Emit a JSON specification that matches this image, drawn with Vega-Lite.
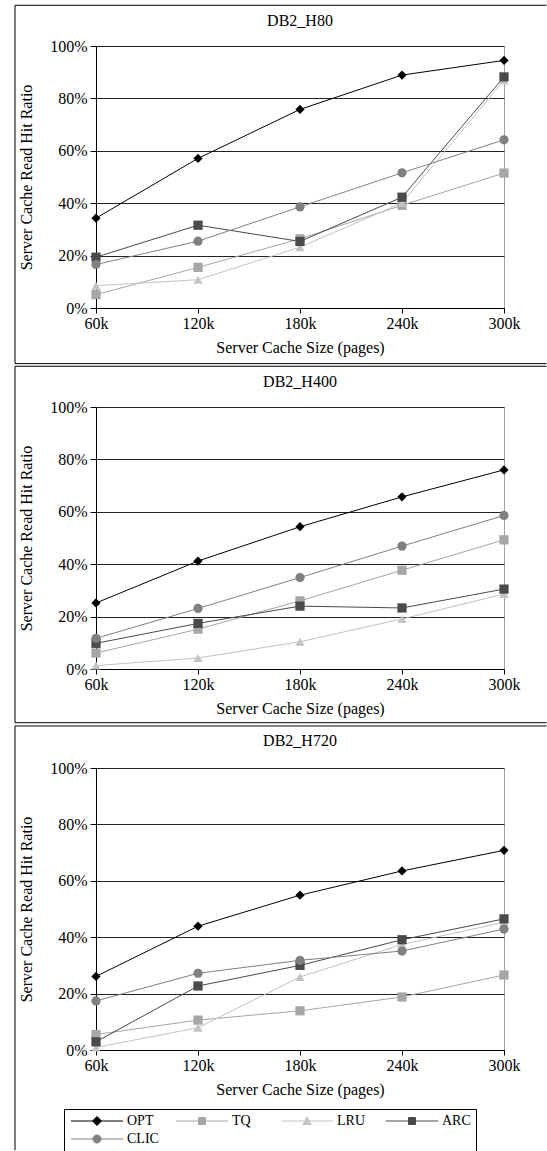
{
  "$schema": "https://vega.github.io/schema/vega-lite/v6.json",
  "background": "white",
  "padding": {"left": 14, "top": 4, "right": 0, "bottom": 0},
  "spacing": 0,
  "datasets": {
    "hits": [
      {"panel": "DB2_H80", "algo": "OPT", "size": 60, "ratio": 0.343},
      {"panel": "DB2_H80", "algo": "OPT", "size": 120, "ratio": 0.571},
      {"panel": "DB2_H80", "algo": "OPT", "size": 180, "ratio": 0.758},
      {"panel": "DB2_H80", "algo": "OPT", "size": 240, "ratio": 0.889},
      {"panel": "DB2_H80", "algo": "OPT", "size": 300, "ratio": 0.945},
      {"panel": "DB2_H80", "algo": "TQ", "size": 60, "ratio": 0.051},
      {"panel": "DB2_H80", "algo": "TQ", "size": 120, "ratio": 0.155},
      {"panel": "DB2_H80", "algo": "TQ", "size": 180, "ratio": 0.264},
      {"panel": "DB2_H80", "algo": "TQ", "size": 240, "ratio": 0.392},
      {"panel": "DB2_H80", "algo": "TQ", "size": 300, "ratio": 0.515},
      {"panel": "DB2_H80", "algo": "LRU", "size": 60, "ratio": 0.085},
      {"panel": "DB2_H80", "algo": "LRU", "size": 120, "ratio": 0.108},
      {"panel": "DB2_H80", "algo": "LRU", "size": 180, "ratio": 0.232},
      {"panel": "DB2_H80", "algo": "LRU", "size": 240, "ratio": 0.401},
      {"panel": "DB2_H80", "algo": "LRU", "size": 300, "ratio": 0.869},
      {"panel": "DB2_H80", "algo": "ARC", "size": 60, "ratio": 0.194},
      {"panel": "DB2_H80", "algo": "ARC", "size": 120, "ratio": 0.316},
      {"panel": "DB2_H80", "algo": "ARC", "size": 180, "ratio": 0.254},
      {"panel": "DB2_H80", "algo": "ARC", "size": 240, "ratio": 0.423},
      {"panel": "DB2_H80", "algo": "ARC", "size": 300, "ratio": 0.882},
      {"panel": "DB2_H80", "algo": "CLIC", "size": 60, "ratio": 0.166},
      {"panel": "DB2_H80", "algo": "CLIC", "size": 120, "ratio": 0.255},
      {"panel": "DB2_H80", "algo": "CLIC", "size": 180, "ratio": 0.386},
      {"panel": "DB2_H80", "algo": "CLIC", "size": 240, "ratio": 0.516},
      {"panel": "DB2_H80", "algo": "CLIC", "size": 300, "ratio": 0.642},
      {"panel": "DB2_H400", "algo": "OPT", "size": 60, "ratio": 0.252},
      {"panel": "DB2_H400", "algo": "OPT", "size": 120, "ratio": 0.412},
      {"panel": "DB2_H400", "algo": "OPT", "size": 180, "ratio": 0.543},
      {"panel": "DB2_H400", "algo": "OPT", "size": 240, "ratio": 0.657},
      {"panel": "DB2_H400", "algo": "OPT", "size": 300, "ratio": 0.760},
      {"panel": "DB2_H400", "algo": "TQ", "size": 60, "ratio": 0.061},
      {"panel": "DB2_H400", "algo": "TQ", "size": 120, "ratio": 0.152},
      {"panel": "DB2_H400", "algo": "TQ", "size": 180, "ratio": 0.260},
      {"panel": "DB2_H400", "algo": "TQ", "size": 240, "ratio": 0.377},
      {"panel": "DB2_H400", "algo": "TQ", "size": 300, "ratio": 0.493},
      {"panel": "DB2_H400", "algo": "LRU", "size": 60, "ratio": 0.013},
      {"panel": "DB2_H400", "algo": "LRU", "size": 120, "ratio": 0.042},
      {"panel": "DB2_H400", "algo": "LRU", "size": 180, "ratio": 0.104},
      {"panel": "DB2_H400", "algo": "LRU", "size": 240, "ratio": 0.191},
      {"panel": "DB2_H400", "algo": "LRU", "size": 300, "ratio": 0.286},
      {"panel": "DB2_H400", "algo": "ARC", "size": 60, "ratio": 0.098},
      {"panel": "DB2_H400", "algo": "ARC", "size": 120, "ratio": 0.174},
      {"panel": "DB2_H400", "algo": "ARC", "size": 180, "ratio": 0.240},
      {"panel": "DB2_H400", "algo": "ARC", "size": 240, "ratio": 0.233},
      {"panel": "DB2_H400", "algo": "ARC", "size": 300, "ratio": 0.305},
      {"panel": "DB2_H400", "algo": "CLIC", "size": 60, "ratio": 0.117},
      {"panel": "DB2_H400", "algo": "CLIC", "size": 120, "ratio": 0.231},
      {"panel": "DB2_H400", "algo": "CLIC", "size": 180, "ratio": 0.349},
      {"panel": "DB2_H400", "algo": "CLIC", "size": 240, "ratio": 0.469},
      {"panel": "DB2_H400", "algo": "CLIC", "size": 300, "ratio": 0.586},
      {"panel": "DB2_H720", "algo": "OPT", "size": 60, "ratio": 0.261},
      {"panel": "DB2_H720", "algo": "OPT", "size": 120, "ratio": 0.439},
      {"panel": "DB2_H720", "algo": "OPT", "size": 180, "ratio": 0.549},
      {"panel": "DB2_H720", "algo": "OPT", "size": 240, "ratio": 0.635},
      {"panel": "DB2_H720", "algo": "OPT", "size": 300, "ratio": 0.708},
      {"panel": "DB2_H720", "algo": "TQ", "size": 60, "ratio": 0.055},
      {"panel": "DB2_H720", "algo": "TQ", "size": 120, "ratio": 0.106},
      {"panel": "DB2_H720", "algo": "TQ", "size": 180, "ratio": 0.139},
      {"panel": "DB2_H720", "algo": "TQ", "size": 240, "ratio": 0.188},
      {"panel": "DB2_H720", "algo": "TQ", "size": 300, "ratio": 0.266},
      {"panel": "DB2_H720", "algo": "LRU", "size": 60, "ratio": 0.009},
      {"panel": "DB2_H720", "algo": "LRU", "size": 120, "ratio": 0.079},
      {"panel": "DB2_H720", "algo": "LRU", "size": 180, "ratio": 0.259},
      {"panel": "DB2_H720", "algo": "LRU", "size": 240, "ratio": 0.374},
      {"panel": "DB2_H720", "algo": "LRU", "size": 300, "ratio": 0.453},
      {"panel": "DB2_H720", "algo": "ARC", "size": 60, "ratio": 0.029},
      {"panel": "DB2_H720", "algo": "ARC", "size": 120, "ratio": 0.227},
      {"panel": "DB2_H720", "algo": "ARC", "size": 180, "ratio": 0.300},
      {"panel": "DB2_H720", "algo": "ARC", "size": 240, "ratio": 0.391},
      {"panel": "DB2_H720", "algo": "ARC", "size": 300, "ratio": 0.465},
      {"panel": "DB2_H720", "algo": "CLIC", "size": 60, "ratio": 0.174},
      {"panel": "DB2_H720", "algo": "CLIC", "size": 120, "ratio": 0.272},
      {"panel": "DB2_H720", "algo": "CLIC", "size": 180, "ratio": 0.318},
      {"panel": "DB2_H720", "algo": "CLIC", "size": 240, "ratio": 0.351},
      {"panel": "DB2_H720", "algo": "CLIC", "size": 300, "ratio": 0.429}
    ]
  },
  "resolve": {
    "scale": {"shape": "independent"},
    "legend": {"color": "independent", "shape": "independent", "fill": "independent", "stroke": "independent"}
  },
  "vconcat": [
    {
      "width": 408,
      "height": 262,
      "title": {"text": "DB2_H80", "frame": "group", "offset": -24, "font": "Liberation Serif"},
      "layer": [
        {
          "data": {"name": "hits"},
          "transform": [{"filter": "datum.panel === 'DB2_H80'"}],
          "mark": {"type": "line", "strokeWidth": 1},
          "encoding": {
            "x": {"field": "size", "type": "quantitative", "scale": {"domain": [60, 300], "nice": false, "zero": false}, "axis": {"values": [60, 120, 180, 240, 300], "labelExpr": "datum.value + 'k'", "labelFlush": false, "title": "Server Cache Size (pages)", "grid": false, "tickSize": 5, "labelPadding": 2, "titlePadding": 8, "labelFont": "Liberation Serif", "titleFont": "Liberation Serif"}},
            "y": {"field": "ratio", "type": "quantitative", "scale": {"domain": [0, 1], "nice": false}, "axis": {"values": [0, 0.2, 0.4, 0.6, 0.8, 1], "format": ".0%", "title": "Server Cache Read Hit Ratio", "tickSize": 6, "labelPadding": 3, "titlePadding": 15, "grid": true, "labelFlush": false, "labelFont": "Liberation Serif", "titleFont": "Liberation Serif"}},
            "color": {"field": "algo", "type": "nominal", "scale": {"range": ["#4a4a4a", "#808080", "#c3c3c3", "#000000", "#a6a6a6"]}, "legend": null},
            "detail": {"field": "algo"}
          }
        },
        {
          "data": {"name": "hits"},
          "transform": [{"filter": "datum.panel === 'DB2_H80'"}],
          "mark": {"type": "point", "filled": true, "opacity": 1, "size": 85},
          "encoding": {
            "x": {"field": "size", "type": "quantitative"},
            "y": {"field": "ratio", "type": "quantitative"},
            "color": {"field": "algo", "type": "nominal", "legend": null},
            "shape": {"field": "algo", "type": "nominal", "scale": {"domain": ["OPT", "TQ", "LRU", "ARC", "CLIC"], "range": ["diamond", "square", "triangle-up", "square", "circle"]}, "legend": null}
          }
        },
        {
          "data": {"values": [{}]},
          "mark": {"type": "rule", "color": "#000000", "strokeWidth": 1, "clip": false},
          "encoding": {"x": {"datum": 12.353}, "x2": {"datum": 325}, "y": {"datum": 1.1555}}
        },
        {
          "data": {"values": [{}]},
          "mark": {"type": "rule", "color": "#000000", "strokeWidth": 1, "clip": false},
          "encoding": {"x": {"datum": 12.353}, "x2": {"datum": 325}, "y": {"datum": -0.2122}}
        },
        {
          "data": {"values": [{}]},
          "mark": {"type": "rule", "color": "#000000", "strokeWidth": 1, "clip": false},
          "encoding": {"x": {"datum": 12.353}, "y": {"datum": -0.2122}, "y2": {"datum": 1.1555}}
        }
      ]
    },
    {
      "width": 408,
      "height": 262,
      "title": {"text": "DB2_H400", "frame": "group", "offset": -24, "font": "Liberation Serif"},
      "layer": [
        {
          "data": {"name": "hits"},
          "transform": [{"filter": "datum.panel === 'DB2_H400'"}],
          "mark": {"type": "line", "strokeWidth": 1},
          "encoding": {
            "x": {"field": "size", "type": "quantitative", "scale": {"domain": [60, 300], "nice": false, "zero": false}, "axis": {"values": [60, 120, 180, 240, 300], "labelExpr": "datum.value + 'k'", "labelFlush": false, "title": "Server Cache Size (pages)", "grid": false, "tickSize": 5, "labelPadding": 2, "titlePadding": 8, "labelFont": "Liberation Serif", "titleFont": "Liberation Serif"}},
            "y": {"field": "ratio", "type": "quantitative", "scale": {"domain": [0, 1], "nice": false}, "axis": {"values": [0, 0.2, 0.4, 0.6, 0.8, 1], "format": ".0%", "title": "Server Cache Read Hit Ratio", "tickSize": 6, "labelPadding": 3, "titlePadding": 15, "grid": true, "labelFlush": false, "labelFont": "Liberation Serif", "titleFont": "Liberation Serif"}},
            "color": {"field": "algo", "type": "nominal", "legend": null},
            "detail": {"field": "algo"}
          }
        },
        {
          "data": {"name": "hits"},
          "transform": [{"filter": "datum.panel === 'DB2_H400'"}],
          "mark": {"type": "point", "filled": true, "opacity": 1, "size": 85},
          "encoding": {
            "x": {"field": "size", "type": "quantitative"},
            "y": {"field": "ratio", "type": "quantitative"},
            "color": {"field": "algo", "type": "nominal", "legend": null},
            "shape": {"field": "algo", "type": "nominal", "scale": {"domain": ["OPT", "TQ", "LRU", "ARC", "CLIC"], "range": ["diamond", "square", "triangle-up", "square", "circle"]}, "legend": null}
          }
        },
        {
          "data": {"values": [{}]},
          "mark": {"type": "rule", "color": "#000000", "strokeWidth": 1, "clip": false},
          "encoding": {"x": {"datum": 12.353}, "x2": {"datum": 325}, "y": {"datum": 1.1555}}
        },
        {
          "data": {"values": [{}]},
          "mark": {"type": "rule", "color": "#000000", "strokeWidth": 1, "clip": false},
          "encoding": {"x": {"datum": 12.353}, "x2": {"datum": 325}, "y": {"datum": -0.205}}
        },
        {
          "data": {"values": [{}]},
          "mark": {"type": "rule", "color": "#000000", "strokeWidth": 1, "clip": false},
          "encoding": {"x": {"datum": 12.353}, "y": {"datum": -0.205}, "y2": {"datum": 1.1555}}
        }
      ]
    },
    {
      "width": 408,
      "height": 282,
      "title": {"text": "DB2_H720", "frame": "group", "offset": -24, "font": "Liberation Serif"},
      "layer": [
        {
          "data": {"name": "hits"},
          "transform": [{"filter": "datum.panel === 'DB2_H720'"}],
          "mark": {"type": "line", "strokeWidth": 1},
          "encoding": {
            "x": {"field": "size", "type": "quantitative", "scale": {"domain": [60, 300], "nice": false, "zero": false}, "axis": {"values": [60, 120, 180, 240, 300], "labelExpr": "datum.value + 'k'", "labelFlush": false, "title": "Server Cache Size (pages)", "grid": false, "tickSize": 5, "labelPadding": 2, "titlePadding": 8, "labelFont": "Liberation Serif", "titleFont": "Liberation Serif"}},
            "y": {"field": "ratio", "type": "quantitative", "scale": {"domain": [0, 1], "nice": false}, "axis": {"values": [0, 0.2, 0.4, 0.6, 0.8, 1], "format": ".0%", "title": "Server Cache Read Hit Ratio", "tickSize": 6, "labelPadding": 3, "titlePadding": 15, "grid": true, "labelFlush": false, "labelFont": "Liberation Serif", "titleFont": "Liberation Serif"}},
            "color": {"field": "algo", "type": "nominal", "legend": null},
            "detail": {"field": "algo"}
          }
        },
        {
          "data": {"name": "hits"},
          "transform": [{"filter": "datum.panel === 'DB2_H720' && datum.algo === 'OPT'"}],
          "mark": {"type": "point", "shape": "diamond", "filled": true, "opacity": 1, "size": 85},
          "encoding": {
            "x": {"field": "size", "type": "quantitative"},
            "y": {"field": "ratio", "type": "quantitative"},
            "color": {"field": "algo", "type": "nominal", "legend": null}
          }
        },
        {
          "data": {"name": "hits"},
          "transform": [{"filter": "datum.panel === 'DB2_H720' && datum.algo === 'TQ'"}],
          "mark": {"type": "point", "shape": "square", "filled": true, "opacity": 1, "size": 85},
          "encoding": {
            "x": {"field": "size", "type": "quantitative"},
            "y": {"field": "ratio", "type": "quantitative"},
            "color": {"field": "algo", "type": "nominal", "legend": null}
          }
        },
        {
          "data": {"name": "hits"},
          "transform": [{"filter": "datum.panel === 'DB2_H720' && datum.algo === 'LRU'"}],
          "mark": {"type": "point", "shape": "triangle-up", "filled": true, "opacity": 1, "size": 85},
          "encoding": {
            "x": {"field": "size", "type": "quantitative"},
            "y": {"field": "ratio", "type": "quantitative"},
            "color": {"field": "algo", "type": "nominal", "legend": null}
          }
        },
        {
          "data": {"name": "hits"},
          "transform": [{"filter": "datum.panel === 'DB2_H720' && datum.algo === 'ARC'"}],
          "mark": {"type": "point", "shape": "square", "filled": true, "opacity": 1, "size": 85},
          "encoding": {
            "x": {"field": "size", "type": "quantitative"},
            "y": {"field": "ratio", "type": "quantitative"},
            "color": {"field": "algo", "type": "nominal", "legend": null}
          }
        },
        {
          "data": {"name": "hits"},
          "transform": [{"filter": "datum.panel === 'DB2_H720' && datum.algo === 'CLIC'"}],
          "mark": {"type": "point", "shape": "circle", "filled": true, "opacity": 1, "size": 85},
          "encoding": {
            "x": {"field": "size", "type": "quantitative"},
            "y": {"field": "ratio", "type": "quantitative"},
            "color": {"field": "algo", "type": "nominal", "legend": null}
          }
        },
        {
          "data": {"name": "hits"},
          "transform": [{"filter": "datum.panel === 'DB2_H720'"}],
          "mark": {"type": "point", "filled": true, "opacity": 0, "size": 85},
          "encoding": {
            "x": {"field": "size", "type": "quantitative"},
            "y": {"field": "ratio", "type": "quantitative"},
            "shape": {
              "field": "algo", "type": "nominal",
              "scale": {"domain": ["OPT", "TQ", "LRU", "ARC", "CLIC"], "range": ["M-1,0H9.4M4.2,-0.9L5.1,0L4.2,0.9L3.3,0Z", "M-1,0H9.4M3.5,-0.7H4.9V0.7H3.5Z", "M-1,0H9.4M4.2,-0.85L5.05,0.7H3.35Z", "M-1,0H9.4M3.5,-0.7H4.9V0.7H3.5Z", "M-1,0H9.4M3.4,0A0.8,0.8,0,1,0,5,0A0.8,0.8,0,1,0,3.4,0Z"]},
              "legend": {
                "orient": "none", "legendX": -32, "legendY": 341,
                "title": null, "direction": "horizontal", "columns": 4, "gridAlign": "all",
                "columnPadding": 15, "rowPadding": 4, "padding": 5,
                "strokeColor": "#000000", "fillColor": "white",
                "labelFont": "Liberation Serif", "labelFontSize": 14, "labelColor": "#000000", "labelOffset": 44,
                "symbolSize": 100, "symbolStrokeWidth": 1, "symbolOpacity": 1
              }
            },
            "fill": {
              "field": "algo", "type": "nominal",
              "scale": {"domain": ["OPT", "TQ", "LRU", "ARC", "CLIC"], "range": ["#000000", "#a6a6a6", "#c3c3c3", "#4a4a4a", "#808080"]},
              "legend": {
                "orient": "none", "legendX": -32, "legendY": 341,
                "title": null, "direction": "horizontal", "columns": 4, "gridAlign": "all",
                "columnPadding": 15, "rowPadding": 4, "padding": 5,
                "strokeColor": "#000000", "fillColor": "white",
                "labelFont": "Liberation Serif", "labelFontSize": 14, "labelColor": "#000000", "labelOffset": 44,
                "symbolSize": 100, "symbolStrokeWidth": 1, "symbolOpacity": 1
              }
            },
            "stroke": {
              "field": "algo", "type": "nominal",
              "scale": {"domain": ["OPT", "TQ", "LRU", "ARC", "CLIC"], "range": ["#000000", "#a6a6a6", "#c3c3c3", "#4a4a4a", "#808080"]},
              "legend": {
                "orient": "none", "legendX": -32, "legendY": 341,
                "title": null, "direction": "horizontal", "columns": 4, "gridAlign": "all",
                "columnPadding": 15, "rowPadding": 4, "padding": 5,
                "strokeColor": "#000000", "fillColor": "white",
                "labelFont": "Liberation Serif", "labelFontSize": 14, "labelColor": "#000000", "labelOffset": 44,
                "symbolSize": 100, "symbolStrokeWidth": 1, "symbolOpacity": 1
              }
            }
          }
        },
        {
          "data": {"values": [{}]},
          "mark": {"type": "rule", "color": "#000000", "strokeWidth": 1, "clip": false},
          "encoding": {"x": {"datum": 12.353}, "x2": {"datum": 325}, "y": {"datum": 1.149}}
        },
        {
          "data": {"values": [{}]},
          "mark": {"type": "rule", "color": "#000000", "strokeWidth": 1, "clip": false},
          "encoding": {"x": {"datum": 12.353}, "y": {"datum": -0.355}, "y2": {"datum": 1.149}}
        }
      ]
    }
  ],
  "config": {
    "font": "Liberation Serif",
    "view": {"stroke": "#a0a0a0", "strokeWidth": 1},
    "axis": {
      "labelFont": "Liberation Serif", "titleFont": "Liberation Serif",
      "labelFontSize": 16, "titleFontSize": 16, "titleFontWeight": "normal",
      "labelColor": "#000000", "titleColor": "#000000",
      "domainColor": "#000000", "tickColor": "#000000",
      "gridColor": "#222222", "gridOpacity": 1
    },
    "title": {"font": "Liberation Serif", "fontSize": 16, "fontWeight": "normal", "color": "#000000"}
  }
}
